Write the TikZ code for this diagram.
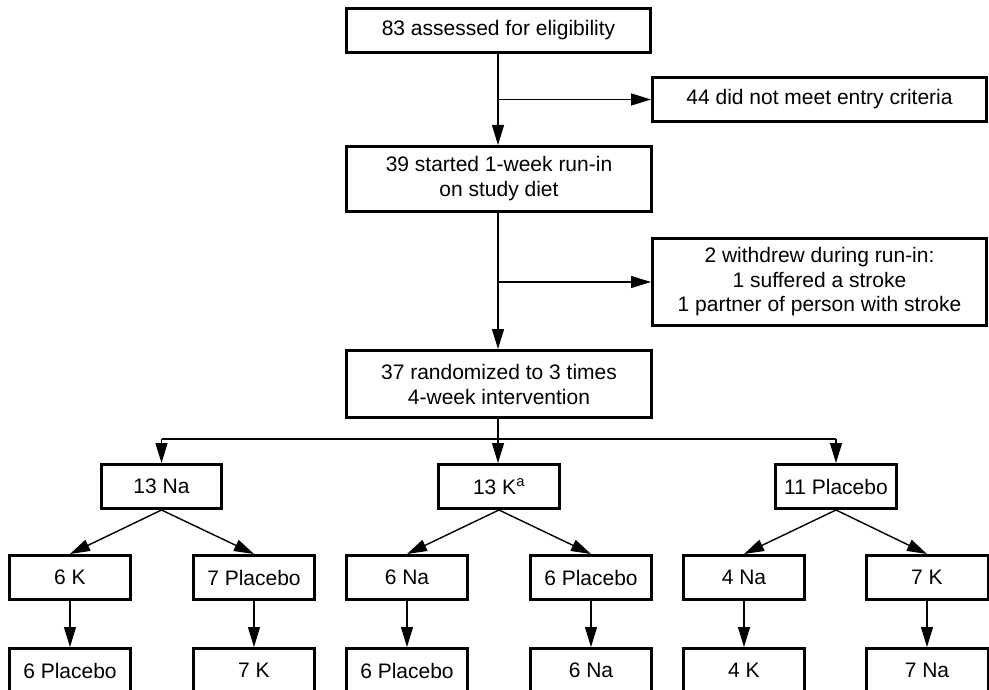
\documentclass[tikz,border=0pt]{standalone}
\usepackage{fontspec}
\setmainfont{Liberation Sans}
\usetikzlibrary{arrows.meta}
\begin{document}
\begin{tikzpicture}[x=1pt,y=-1pt,
  box/.style={draw=black, line width=3pt, inner sep=0pt, align=center,
    font=\fontsize{21pt}{25pt}\selectfont, minimum height=44pt, minimum width=121pt},
  conn/.style={draw=black, line width=1.4pt},
  arr/.style={conn, -{Triangle[length=20pt,width=12pt]}},
  thinline/.style={draw=black, line width=1.1pt}]
\useasboundingbox (0,0) rectangle (989,690);
\fill[white] (0,0) rectangle (989,690);
% main column
\node[box, minimum width=304pt] (b1) at (498.5,30.5) {83 assessed for eligibility};
\node[box, minimum width=334pt] (b2) at (819.5,99.5) {44 did not meet entry criteria};
\node[box, minimum width=305pt, minimum height=65pt] (b3) at (499,179) {39 started 1-week run-in\\on study diet};
\node[box, minimum width=334pt, minimum height=87pt, font=\fontsize{21pt}{24.5pt}\selectfont] (b4) at (819.5,282) {2 withdrew during run-in:\\1 suffered a stroke\\1 partner of person with stroke};
\node[box, minimum width=305pt, minimum height=67pt] (b5) at (499,384) {37 randomized to 3 times\\4-week intervention};
% row 2
\node[box, minimum width=120pt] (na13) at (161.5,486.5) {13 Na};
\node[box] (k13) at (499,486.5) {13 K\textsuperscript{a}};
\node[box] (pl11) at (836,486.5) {11 Placebo};
% row 3
\node[box] (r3a) at (70,577.5) {6 K};
\node[box] (r3b) at (254,577.5) {7 Placebo};
\node[box] (r3c) at (407,577.5) {6 Na};
\node[box] (r3d) at (591,577.5) {6 Placebo};
\node[box] (r3e) at (744,577.5) {4 Na};
\node[box, minimum width=122pt] (r3f) at (927,577.5) {7 K};
% row 4
\node[box] (r4a) at (70,670.5) {6 Placebo};
\node[box] (r4b) at (254,670.5) {7 K};
\node[box] (r4c) at (407,670.5) {6 Placebo};
\node[box] (r4d) at (591,670.5) {6 Na};
\node[box] (r4e) at (744,670.5) {4 K};
\node[box, minimum width=122pt] (r4f) at (927,670.5) {7 Na};
% connectors main column
\draw[arr] (b1.south -| 498,0) -- (b3.north -| 498,0);
\draw[arr] (498,99.5) coordinate (j1) -- (b2.west);
\draw[arr] (b3.south -| 498,0) -- (b5.north -| 498,0);
\draw[arr] (498,282) coordinate (j2) -- (b4.west);
% distribution
\coordinate (hL) at (161.5,439);
\coordinate (hR) at (836,439);
\draw[thinline] (hL) -- (hR);
\draw[arr] (b5.south -| 498,0) -- (k13.north -| 498,0);
\draw[arr] (hL) -- (na13.north);
\draw[arr] (hR) -- (pl11.north);
% row 2 -> row 3
\draw[arr] (na13.south) -- (r3a.north);
\draw[arr] (na13.south) -- (r3b.north);
\draw[arr] (k13.south) -- (r3c.north);
\draw[arr] (k13.south) -- (r3d.north);
\draw[arr] (pl11.south) -- (r3e.north);
\draw[arr] (pl11.south) -- (r3f.north);
% row 3 -> row 4
\draw[arr] (r3a) -- (r4a);
\draw[arr] (r3b) -- (r4b);
\draw[arr] (r3c) -- (r4c);
\draw[arr] (r3d) -- (r4d);
\draw[arr] (r3e) -- (r4e);
\draw[arr] (r3f) -- (r4f);
\end{tikzpicture}
\end{document}
